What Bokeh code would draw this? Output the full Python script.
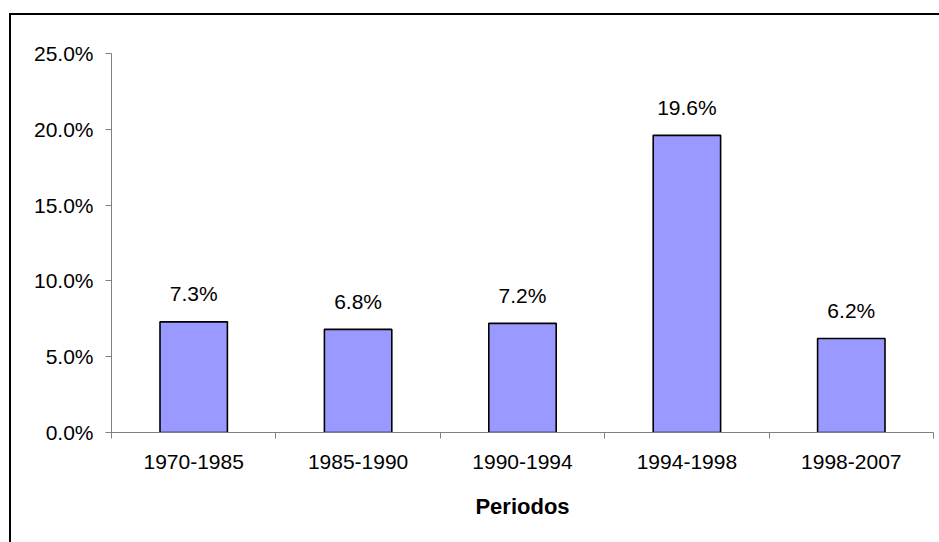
from bokeh.plotting import figure
from bokeh.models import (Range1d, FixedTicker, PrintfTickFormatter, CustomJSTickFormatter,
                          ColumnDataSource, InlineStyleSheet)
from bokeh.core.properties import value
from bokeh.embed import file_html
from bokeh.resources import INLINE

periods = ["1970-1985", "1985-1990", "1990-1994", "1994-1998", "1998-2007"]
rates = [7.3, 6.8, 7.2, 19.6, 6.2]
y_ticks = [0, 5, 10, 15, 20, 25]
x_label = "Periodos"

xs = [i + 0.5 for i in range(len(periods))]
src = ColumnDataSource(dict(x=xs, top=rates, lab=["%.1f%%" % v for v in rates]))

FONT = "Liberation Sans"

p = figure(width=939, height=542, output_backend="svg", toolbar_location=None,
           x_range=Range1d(0, len(periods)), y_range=Range1d(0, 25),
           min_border_left=111, min_border_right=6, min_border_top=53, min_border_bottom=110)
p.outline_line_color = None
p.xgrid.grid_line_color = None
p.ygrid.grid_line_color = None

p.vbar(x="x", top="top", width=0.41, bottom=0, source=src,
       fill_color="#9999FF", line_color="black", line_width=1.6)
p.text(x="x", y="top", text="lab", source=src, text_align="center",
       text_baseline="alphabetic", y_offset=-28, text_font=value(FONT),
       text_font_size="21px", text_color="black")

# x axis
xa = p.xaxis[0]
xa.ticker = FixedTicker(ticks=xs, minor_ticks=list(range(len(periods) + 1)))
xa.formatter = CustomJSTickFormatter(args=dict(labels=periods),
                                     code="return labels[Math.floor(tick)];")
xa.axis_line_color = "#808080"
xa.major_tick_line_color = None
xa.major_tick_out = 6
xa.major_tick_in = 0
xa.minor_tick_line_color = "#808080"
xa.minor_tick_out = 6
xa.minor_tick_in = 0
xa.major_label_standoff = 16
xa.major_label_text_font = FONT
xa.major_label_text_font_size = "21px"
xa.major_label_text_color = "black"
xa.axis_label = x_label
xa.axis_label_text_font = FONT
xa.axis_label_text_font_size = "22px"
xa.axis_label_text_font_style = "bold"
xa.axis_label_text_color = "black"
xa.axis_label_standoff = 22

# y axis
ya = p.yaxis[0]
ya.ticker = FixedTicker(ticks=y_ticks, minor_ticks=[])
ya.formatter = PrintfTickFormatter(format="%.1f%%")
ya.axis_line_color = "#808080"
ya.major_tick_line_color = "#808080"
ya.major_tick_out = 6
ya.major_tick_in = 0
ya.minor_tick_line_color = None
ya.major_label_standoff = 12
ya.major_label_text_font = FONT
ya.major_label_text_font_size = "21px"
ya.major_label_text_color = "black"

# outer chart-area frame (only left and top edges are visible in the reference)
p.stylesheets = [InlineStyleSheet(css="""
:host::after {
  content: "";
  position: absolute;
  left: 9px; top: 13px; right: 0; bottom: 0;
  border-left: 2.5px solid black;
  border-top: 2.5px solid black;
  pointer-events: none;
}
""")]

open("out.html", "w").write(file_html(p, INLINE))
